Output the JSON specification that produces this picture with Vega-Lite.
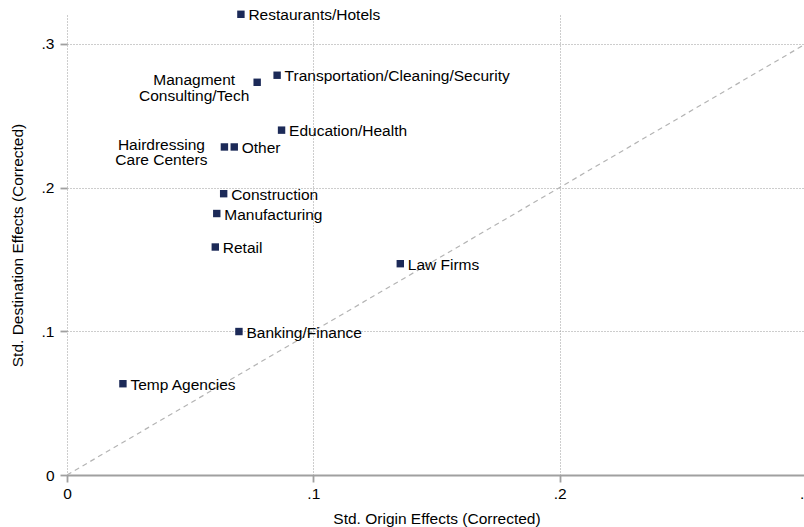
{
  "$schema": "https://vega.github.io/schema/vega-lite/v6.json",
  "autosize": {"type": "none"},
  "width": 737,
  "height": 460,
  "padding": {"left": 67, "top": 15, "right": 0, "bottom": 52},
  "background": "white",
  "config": {
    "view": {"stroke": null},
    "font": "Liberation Sans",
    "axis": {
      "labelFont": "Liberation Sans",
      "titleFont": "Liberation Sans",
      "labelFontSize": 15.5,
      "titleFontSize": 15.5,
      "labelColor": "#000000",
      "titleColor": "#000000",
      "titleFontWeight": "normal",
      "tickColor": "#a0a0a0",
      "tickWidth": 1.8,
      "tickSize": 7,
      "domainColor": "#a0a0a0",
      "domainWidth": 1.8,
      "gridColor": "#9a9a9a",
      "gridDash": [1, 2],
      "gridWidth": 1
    }
  },
  "datasets": {
    "industries": [
      {"industry": "Restaurants/Hotels", "label": "Restaurants/Hotels", "origin": 0.0706, "destination": 0.3205},
      {"industry": "Transportation/Cleaning/Security", "label": "Transportation/Cleaning/Security", "origin": 0.0853, "destination": 0.2781},
      {"industry": "Managment Consulting/Tech", "label": "Managment\nConsulting/Tech", "origin": 0.0772, "destination": 0.2732},
      {"industry": "Education/Health", "label": "Education/Health", "origin": 0.0871, "destination": 0.2399},
      {"industry": "Hairdressing Care Centers", "label": "Hairdressing\nCare Centers", "origin": 0.0639, "destination": 0.2282},
      {"industry": "Other", "label": "Other", "origin": 0.0679, "destination": 0.2282},
      {"industry": "Construction", "label": "Construction", "origin": 0.0636, "destination": 0.1957},
      {"industry": "Manufacturing", "label": "Manufacturing", "origin": 0.0608, "destination": 0.1819},
      {"industry": "Retail", "label": "Retail", "origin": 0.0602, "destination": 0.1586},
      {"industry": "Law Firms", "label": "Law Firms", "origin": 0.1353, "destination": 0.147},
      {"industry": "Banking/Finance", "label": "Banking/Finance", "origin": 0.0698, "destination": 0.0998},
      {"industry": "Temp Agencies", "label": "Temp Agencies", "origin": 0.0227, "destination": 0.0635}
    ],
    "diagonal": [
      {"origin": 0, "destination": 0},
      {"origin": 0.3, "destination": 0.3}
    ]
  },
  "layer": [
    {
      "data": {"name": "diagonal"},
      "mark": {"type": "line", "color": "#b4b4b4", "strokeWidth": 1.2, "strokeDash": [5, 4], "clip": true},
      "encoding": {
        "x": {
          "field": "origin", "type": "quantitative",
          "scale": {"domain": [0, 0.3], "range": [0, 739], "nice": false, "zero": false},
          "axis": {
            "title": "Std. Origin Effects (Corrected)",
            "values": [0, 0.1, 0.2, 0.3],
            "labelExpr": "datum.value == 0 ? '0' : substring(format(datum.value, '.1f'), 1)",
            "labelPadding": 4,
            "titlePadding": 10,
            "grid": true,
            "labelFlush": false,
            "labelOverlap": false
          }
        },
        "y": {
          "field": "destination", "type": "quantitative",
          "scale": {"domain": [0, 0.32], "nice": false, "zero": false},
          "axis": {
            "title": "Std. Destination Effects (Corrected)",
            "values": [0, 0.1, 0.2, 0.3],
            "labelExpr": "datum.value == 0 ? '0' : substring(format(datum.value, '.1f'), 1)",
            "labelPadding": 6,
            "titlePadding": 16,
            "domain": false,
            "grid": true,
            "labelFlush": false,
            "labelOverlap": false
          }
        }
      }
    },
    {
      "mark": {"type": "rule", "color": "#a0a0a0", "strokeWidth": 1.8},
      "encoding": {
        "x": {"datum": 0, "type": "quantitative"},
        "y": {"datum": 0, "type": "quantitative"},
        "y2": {"datum": 0.3}
      }
    },
    {
      "data": {"name": "industries"},
      "mark": {"type": "point", "shape": "square", "filled": true, "size": 55, "color": "#1c2a58", "opacity": 1},
      "encoding": {
        "x": {"field": "origin", "type": "quantitative"},
        "y": {"field": "destination", "type": "quantitative"}
      }
    },
    {
      "data": {"name": "industries"},
      "transform": [{"filter": {"not": {"field": "industry", "oneOf": ["Managment Consulting/Tech", "Hairdressing Care Centers"]}}}],
      "mark": {"type": "text", "align": "left", "baseline": "middle", "dx": 7.5, "dy": 1, "fontSize": 15.5, "font": "Liberation Sans", "color": "#000000"},
      "encoding": {
        "x": {"field": "origin", "type": "quantitative"},
        "y": {"field": "destination", "type": "quantitative"},
        "text": {"field": "label"}
      }
    },
    {
      "data": {"name": "industries"},
      "transform": [{"filter": {"field": "industry", "oneOf": ["Managment Consulting/Tech", "Hairdressing Care Centers"]}}],
      "mark": {"type": "text", "align": "center", "baseline": "middle", "dx": -63, "dy": -2, "lineBreak": "\n", "lineHeight": 15.5, "fontSize": 15.5, "font": "Liberation Sans", "color": "#000000"},
      "encoding": {
        "x": {"field": "origin", "type": "quantitative"},
        "y": {"field": "destination", "type": "quantitative"},
        "text": {"field": "label"}
      }
    }
  ]
}
